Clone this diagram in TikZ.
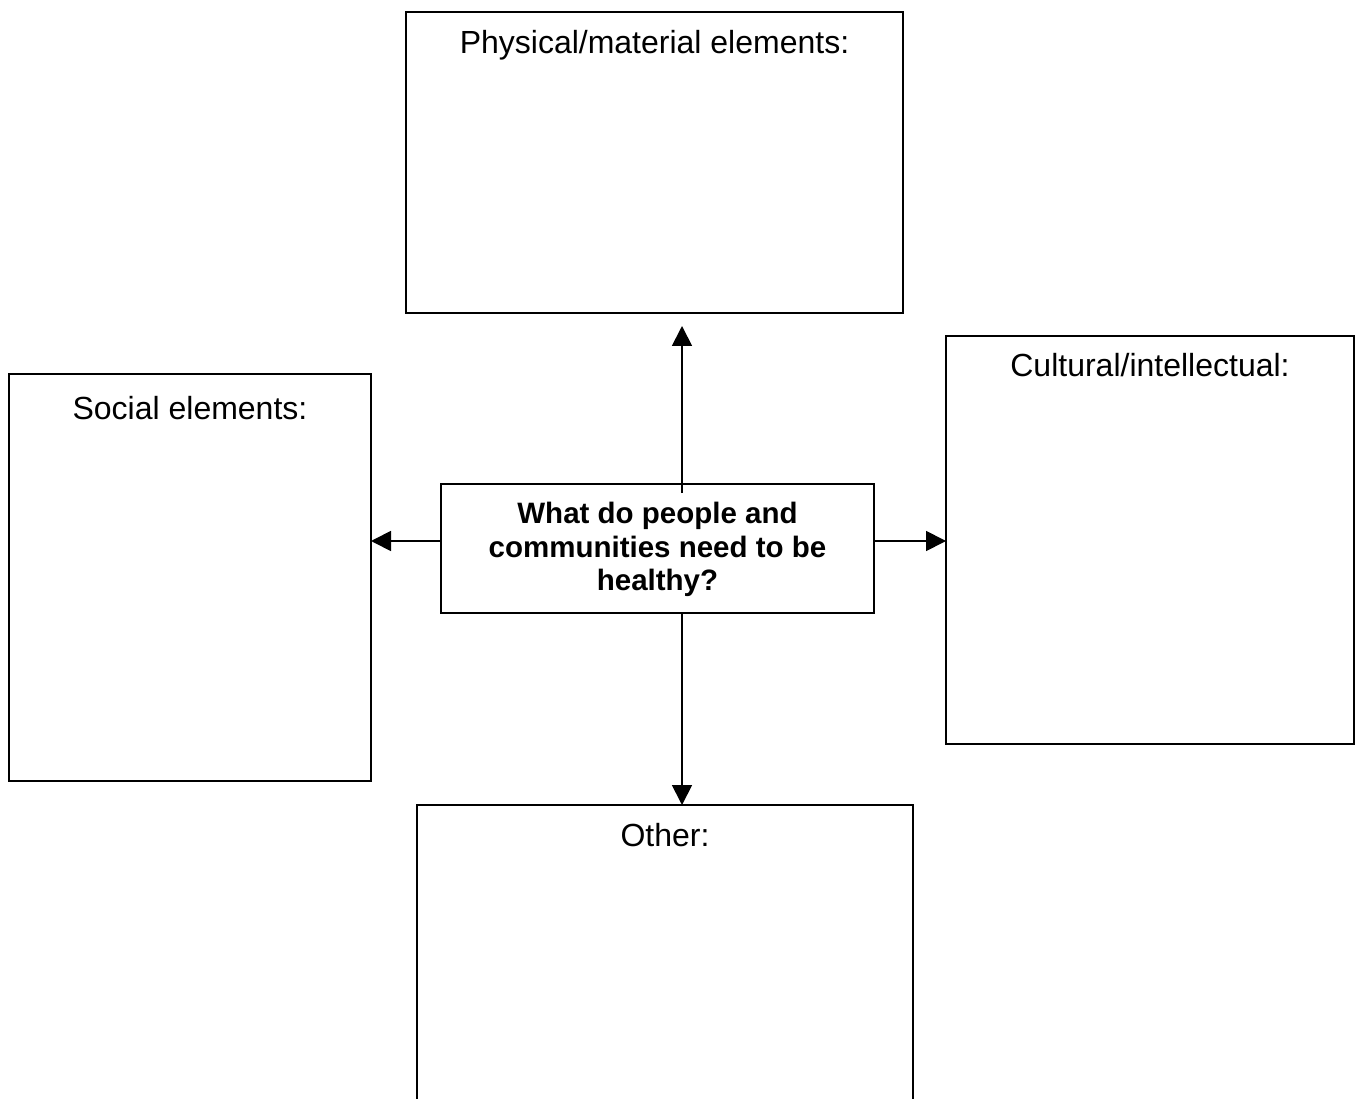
\documentclass[tikz,border=0pt]{standalone}
\usepackage{fontspec}
\setmainfont{Liberation Sans}
\usetikzlibrary{arrows.meta}
\begin{document}
\begin{tikzpicture}[x=1pt,y=-1pt,
  box/.style={draw=black, line width=1.8pt, inner sep=0pt, outer sep=0pt, anchor=north west},
  lbl/.style={inner sep=0pt, anchor=base, font=\fontsize{32}{38}\selectfont},
  qtext/.style={inner sep=0pt, align=center, font=\fontsize{29.5}{33.5}\selectfont\bfseries},
  arr/.style={line width=1.8pt, -{Triangle[width=20pt,length=20pt]}}]
\useasboundingbox (0,0) rectangle (1355,1099);
\clip (0,0) rectangle (1355,1099);
% boxes
\node[box, minimum width=497pt, minimum height=301pt] (phys) at (406,12) {};
\node[box, minimum width=362pt, minimum height=407pt] (soc) at (9,374) {};
\node[box, minimum width=408pt, minimum height=408pt] (cult) at (946,336) {};
\node[box, minimum width=496pt, minimum height=330pt] (oth) at (417,805) {};
\node[box, minimum width=433pt, minimum height=129pt] (q) at (441,484) {};
% labels
\node[lbl] (physl) at (654.5,54) {Physical/material elements:};
\node[lbl] (socl) at (190,419) {Social elements:};
\node[lbl] (cultl) at (1150,377) {Cultural/intellectual:};
\node[lbl] (othl) at (665,846) {Other:};
\node[qtext] (qt) at (657.5,549.5) {What do people and\\communities need to be\\healthy?};
% arrows
\coordinate (upstart) at (682,493);
\coordinate (uptip) at (682,326);
\coordinate (hy) at (0,541);
\draw[arr] (upstart) -- (uptip);
\draw[arr] (q.west |- hy) -- (soc.east |- hy);
\draw[arr] (q.east |- hy) -- (cult.west |- hy);
\draw[arr] (q.south -| upstart) -- (oth.north -| upstart);
\end{tikzpicture}
\end{document}
